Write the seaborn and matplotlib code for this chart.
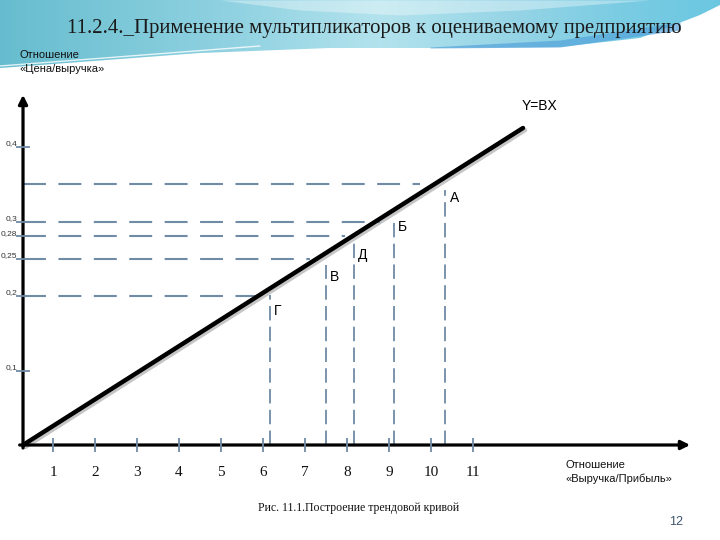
import numpy as np
import pandas as pd
import matplotlib
matplotlib.use("Agg")
import matplotlib.pyplot as plt
import matplotlib.patheffects as pe
from matplotlib.path import Path
from matplotlib.patches import PathPatch
import seaborn as sns

# ---------------- data ----------------
title = "11.2.4._Применение мультипликаторов к оцениваемому предприятию"
caption = "Рис. 11.1.Построение трендовой кривой"
page_number = "12"
y_axis_label = "Отношение\n«Цена/выручка»"
x_axis_label = "Отношение\n«Выручка/Прибыль»"
trend_label = "Y=BX"

x_ticks = [1, 2, 3, 4, 5, 6, 7, 8, 9, 10, 11]
x_tick_labels = ["1", "2", "3", "4", "5", "6", "7", "8", "9", "10", "11"]
y_ticks = [0.1, 0.2, 0.25, 0.28, 0.3, 0.4]
y_tick_labels = ["0,1", "0,2", "0,25", "0,28", "0,3", "0,4"]

point_labels = ["Г", "В", "Д", "Б", "А"]
point_x = [6.17, 7.50, 8.17, 9.12, 10.33]        # vertical guide positions
point_top = [0.201, 0.242, 0.282, 0.305, 0.342]  # top of vertical guides
level_y = [0.20, 0.25, 0.28, 0.30, 0.35]          # horizontal guide levels
level_end = [5.81, 7.12, 7.95, 8.79, 9.74]        # where horizontal guides stop

origin_x = 0.286
trend_x = [origin_x, 12.19]
trend_y = [0.0, 0.4255]
x_axis_end = 16.17
y_axis_end = 0.47

# ---------------- figure ----------------
sns.set_theme(style="white")
plt.rcParams["font.family"] = ["Liberation Sans", "DejaVu Sans"]

W, H = 720, 540
fig = plt.figure(figsize=(7.2, 5.4), dpi=100)
fig.patch.set_facecolor("white")

# decorative slide header
bg = fig.add_axes([0, 0, 1, 1], zorder=-5)
bg.set_xlim(0, W)
bg.set_ylim(H, 0)
bg.axis("off")
stops_x = [0, 250, 380, 520, 620, 720]
stops_c = [(0.40, 0.74, 0.81), (0.58, 0.83, 0.89), (0.70, 0.89, 0.93),
           (0.58, 0.83, 0.90), (0.48, 0.80, 0.89), (0.42, 0.78, 0.88)]
cols = np.arange(W)
grad = np.zeros((1, W, 3))
for ch in range(3):
    grad[0, :, ch] = np.interp(cols, stops_x, [c[ch] for c in stops_c])
img = bg.imshow(grad, extent=(0, W, 80, 0), aspect="auto", zorder=0)
edge_x = np.array([0, 80, 200, 330, 450, 560, 640, 700, 720])
edge_y = np.array([68, 62, 53, 48, 48, 47, 38, 15, 5])
xs = np.linspace(0, W, 200)
ys = np.interp(xs, edge_x, edge_y)
verts = [(0, 0), (W, 0)] + list(zip(xs[::-1], ys[::-1])) + [(0, 0)]
clip = PathPatch(Path(verts), transform=bg.transData, facecolor="none", edgecolor="none")
bg.add_patch(clip)
img.set_clip_path(clip)
# light swoosh
sw_x = np.linspace(220, 650, 100)
sw_top = np.zeros_like(sw_x)
sw_bot = np.interp(sw_x, [220, 300, 400, 520, 650], [0, 10, 15, 10, 0])
bg.fill_between(sw_x, sw_top, sw_bot, color="white", alpha=0.35, lw=0, zorder=1)
# darker streak
st_x = np.linspace(430, 680, 100)
bg.fill_between(st_x, np.interp(st_x, [430, 560, 680], [47, 40, 22]),
                np.interp(st_x, [430, 560, 680], [48, 47, 30]),
                color=(0.33, 0.64, 0.86), alpha=0.7, lw=0, zorder=1)
bg.plot(np.linspace(0, 260, 50), np.interp(np.linspace(0, 260, 50), [0, 260], [66, 46]),
        color="white", lw=1.0, alpha=0.8, zorder=2)

# main chart axes (data coordinates mapped onto the slide)
ax = fig.add_axes([0, 0, 1, 1])
ax.set_xlim(-11 / 42, (W - 11) / 42)
ax.set_ylim(-(H - 445) / 745, 445 / 745)
ax.axis("off")
ax.patch.set_alpha(0)

guide = "#6f8ba6"
shadow = [pe.SimpleLineShadow(offset=(1.5, -1.5), shadow_color="gray", alpha=0.45), pe.Normal()]

# horizontal guide levels
for yv, xe in zip(level_y, level_end):
    ax.plot([origin_x, xe], [yv, yv], color=guide, lw=1.5, dashes=(11, 6), zorder=2)
# vertical guides
for xv, yt in zip(point_x, point_top):
    ax.plot([xv, xv], [0, yt], color=guide, lw=1.3, dashes=(8, 3.5), zorder=2)

# trend line via seaborn
trend = pd.DataFrame({"x": trend_x, "y": trend_y})
sns.lineplot(data=trend, x="x", y="y", ax=ax, color="black", lw=3.2,
             path_effects=shadow, zorder=4, solid_capstyle="round")

# axes with arrows
ax.annotate("", xy=(x_axis_end, 0), xytext=(origin_x - 0.08, 0),
            arrowprops=dict(arrowstyle="-|>", lw=2.3, color="black", mutation_scale=13,
                            shrinkA=0, shrinkB=0), zorder=5)
ax.annotate("", xy=(origin_x, y_axis_end), xytext=(origin_x, -0.004),
            arrowprops=dict(arrowstyle="-|>", lw=2.3, color="black", mutation_scale=13,
                            shrinkA=0, shrinkB=0), zorder=5)

# tick marks
ax.plot(x_ticks, [0] * len(x_ticks), ls="none", marker="|", ms=10, mew=1.3, color=guide, zorder=6)
ax.plot([origin_x] * len(y_ticks), y_ticks, ls="none", marker="_", ms=10, mew=1.3, color=guide, zorder=6)

# tick labels
for xv, lab in zip(x_ticks, x_tick_labels):
    ax.annotate(lab, xy=(xv, 0), xytext=(0, -27), textcoords="offset pixels",
                ha="center", va="center", fontsize=11, family=["Liberation Serif"], color="#111111")
for yv, lab in zip(y_ticks, y_tick_labels):
    ax.annotate(lab, xy=(origin_x, yv), xytext=(-6, 3), textcoords="offset pixels",
                ha="right", va="center", fontsize=6, color="#333333")

# point letters
letter_off = [(4, -16), (4, -12), (4, -20), (4, -9), (5, -8)]
for xv, yt, lab, off in zip(point_x, point_top, point_labels, letter_off):
    ax.annotate(lab, xy=(xv, yt), xytext=off, textcoords="offset pixels",
                ha="left", va="center", fontsize=10, color="black")

ax.annotate(trend_label, xy=(trend_x[1], trend_y[1]), xytext=(17, 22), textcoords="offset pixels",
            ha="center", va="center", fontsize=10, color="black")

# axis labels
fig.text(20 / W, 1 - 50 / H, y_axis_label, ha="left", va="top", fontsize=8,
         linespacing=1.45, color="#111111")
fig.text(565 / W, 1 - 460 / H, x_axis_label, ha="left", va="top", fontsize=8,
         linespacing=1.45, color="#111111")

# title fitted to the reference width
t = fig.text(374 / W, 1 - 28 / H, title, ha="center", va="center", fontsize=16,
             family=["Liberation Serif"], color="#1a1a1a")
fig.canvas.draw()
w = t.get_window_extent().width
t.set_fontsize(16 * 618 / w)

fig.text(258 / W, 1 - 508 / H, caption, ha="left", va="center", fontsize=8.5,
         family=["Liberation Serif"], color="#111111")
fig.text(676 / W, 1 - 522 / H, page_number, ha="center", va="center", fontsize=9,
         color="#3e5670")

fig.savefig("out.png", dpi=100)
